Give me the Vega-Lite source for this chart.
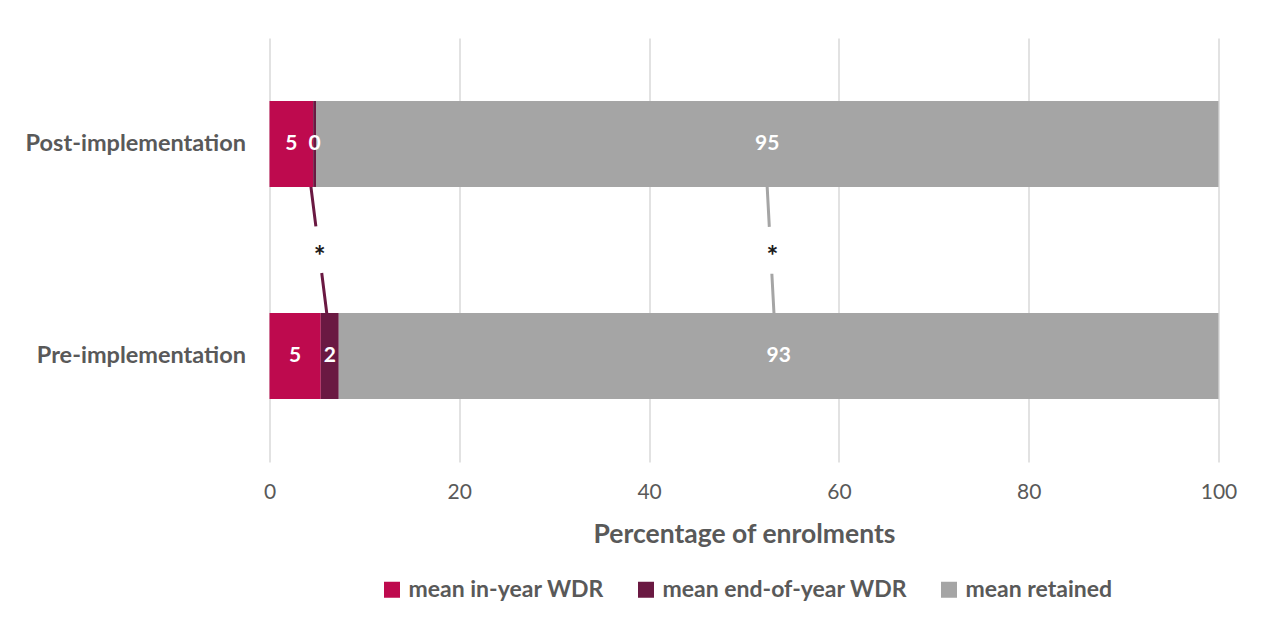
{
  "$schema": "https://vega.github.io/schema/vega-lite/v6.json",
  "autosize": {"type": "none"},
  "width": 949,
  "height": 424,
  "padding": {"left": 269.5, "top": 38, "right": 44, "bottom": 177},
  "background": "white",
  "config": {
    "view": {"stroke": null},
    "font": "Lato",
    "text": {"font": "Lato"}
  },
  "datasets": {
    "bars": [
      {"group": "Post-implementation", "series": "mean in-year WDR", "value": 4.6, "order": 1},
      {"group": "Post-implementation", "series": "mean end-of-year WDR", "value": 0.3, "order": 2},
      {"group": "Post-implementation", "series": "mean retained", "value": 95.1, "order": 3},
      {"group": "Pre-implementation", "series": "mean in-year WDR", "value": 5.4, "order": 1},
      {"group": "Pre-implementation", "series": "mean end-of-year WDR", "value": 1.9, "order": 2},
      {"group": "Pre-implementation", "series": "mean retained", "value": 92.7, "order": 3}
    ],
    "links": [
      {"series": "mean end-of-year WDR", "post": 3.8, "pre": 6.6, "star": 5.3, "mark": "*", "row": "difference"},
      {"series": "mean retained", "post": 52.2, "pre": 53.4, "star": 53.0, "mark": "*", "row": "difference"}
    ]
  },
  "layer": [
    {
      "data": {"name": "links"},
      "mark": {"type": "rule", "strokeWidth": 3, "strokeDash": [83, 47]},
      "encoding": {
        "x": {"field": "post", "type": "quantitative"},
        "x2": {"field": "pre"},
        "y": {"datum": "Post-implementation", "type": "nominal"},
        "y2": {"datum": "Pre-implementation"},
        "color": {"field": "series", "type": "nominal"}
      }
    },
    {
      "data": {"name": "bars"},
      "transform": [
        {"stack": "value", "groupby": ["group"], "sort": [{"field": "order"}], "as": ["x0", "x1"]}
      ],
      "mark": {"type": "bar"},
      "encoding": {
        "y": {
          "field": "group", "type": "nominal",
          "scale": {"domain": ["Post-implementation", "difference", "Pre-implementation"], "paddingInner": 0.189, "paddingOuter": 0.594},
          "axis": {
            "title": null, "ticks": false, "domain": false, "grid": false,
            "labelExpr": "datum.value == 'difference' ? '' : datum.value",
            "labelFontSize": 23.5, "labelFontWeight": "bold", "labelColor": "#595959", "labelPadding": 24, "labelFont": "Lato", "labelLimit": 400
          }
        },
        "x": {
          "field": "x0", "type": "quantitative",
          "scale": {"domain": [0, 100], "nice": false},
          "axis": {
            "title": "Percentage of enrolments",
            "values": [0, 20, 40, 60, 80, 100],
            "ticks": false, "domain": false, "labelFlush": false,
            "grid": true, "gridColor": "#D9D9D9", "gridWidth": 1.5,
            "labelFontSize": 21, "labelColor": "#595959", "labelPadding": 19, "labelFont": "Lato",
            "titleFontSize": 26.5, "titleFontWeight": "bold", "titleColor": "#595959", "titlePadding": 19, "titleFont": "Lato"
          }
        },
        "x2": {"field": "x1"},
        "color": {
          "field": "series", "type": "nominal",
          "scale": {
            "domain": ["mean in-year WDR", "mean end-of-year WDR", "mean retained"],
            "range": ["#BE0A4E", "#6A1942", "#A5A5A5"]
          },
          "legend": {
            "title": null, "orient": "none", "direction": "horizontal",
            "legendX": 111, "legendY": 540,
            "symbolType": "square", "symbolSize": 256, "symbolStrokeWidth": 0,
            "labelFontSize": 23, "labelFontWeight": "bold", "labelColor": "#595959", "labelFont": "Lato", "labelLimit": 400,
            "columnPadding": 30, "labelOffset": 5
          }
        }
      }
    },
    {
      "data": {"name": "bars"},
      "transform": [
        {"stack": "value", "groupby": ["group"], "sort": [{"field": "order"}], "as": ["x0", "x1"]},
        {"calculate": "(datum.x0 + datum.x1) / 2", "as": "mid"}
      ],
      "mark": {"type": "text", "color": "white", "fontWeight": "bold", "fontSize": 21, "baseline": "middle"},
      "encoding": {
        "x": {"field": "mid", "type": "quantitative"},
        "y": {"field": "group", "type": "nominal"},
        "text": {"field": "value", "type": "quantitative", "format": ".0f"}
      }
    },
    {
      "data": {"name": "links"},
      "mark": {"type": "text", "color": "#1a1a1a", "fontWeight": "bold", "fontSize": 28, "baseline": "middle", "dy": 8},
      "encoding": {
        "x": {"field": "star", "type": "quantitative"},
        "y": {"field": "row", "type": "nominal"},
        "text": {"field": "mark"}
      }
    }
  ]
}
